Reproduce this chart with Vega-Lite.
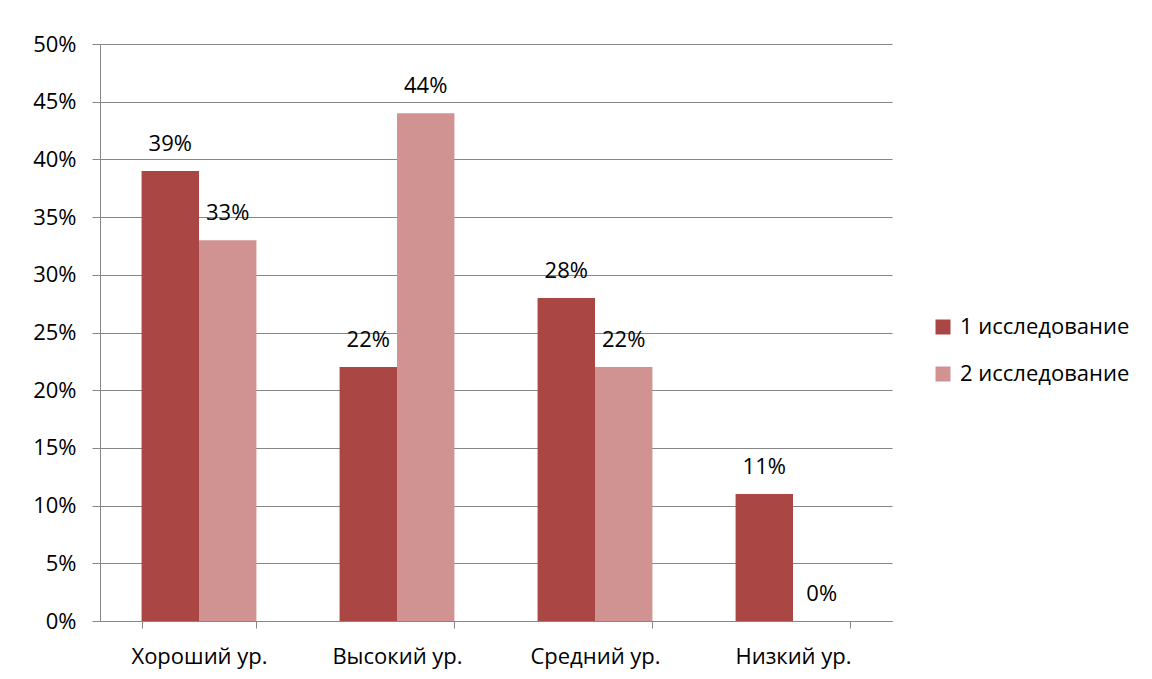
{
  "$schema": "https://vega.github.io/schema/vega-lite/v6.json",
  "width": 792,
  "height": 577,
  "autosize": {"type": "none"},
  "padding": {"left": 100, "top": 44, "right": 260, "bottom": 58},
  "background": "white",
  "config": {
    "font": "Open Sans",
    "view": {"stroke": null},
    "axis": {"labelFont": "Open Sans", "labelFontSize": 22, "labelColor": "#000000", "domainColor": "#868686", "tickColor": "#868686", "gridColor": "#868686"}
  },
  "data": {
    "values": [
      {"cat": "Хороший ур.", "series": "1 исследование", "v": 0.39},
      {"cat": "Хороший ур.", "series": "2 исследование", "v": 0.33},
      {"cat": "Высокий ур.", "series": "1 исследование", "v": 0.22},
      {"cat": "Высокий ур.", "series": "2 исследование", "v": 0.44},
      {"cat": "Средний ур.", "series": "1 исследование", "v": 0.28},
      {"cat": "Средний ур.", "series": "2 исследование", "v": 0.22},
      {"cat": "Низкий ур.", "series": "1 исследование", "v": 0.11},
      {"cat": "Низкий ур.", "series": "2 исследование", "v": 0.0}
    ]
  },
  "encoding": {
    "x": {
      "field": "cat", "type": "nominal", "sort": null, "title": null,
      "scale": {"paddingInner": 0.42, "paddingOuter": 0.21},
      "axis": {"labelAngle": 0, "labelPadding": 18, "tickBand": "extent", "tickSize": 7, "domainWidth": 1}
    },
    "xOffset": {"field": "series", "type": "nominal"},
    "y": {
      "field": "v", "type": "quantitative", "title": null,
      "scale": {"domain": [0, 0.5]},
      "axis": {"format": ".0%", "values": [0,0.05,0.1,0.15,0.2,0.25,0.3,0.35,0.4,0.45,0.5], "labelOverlap": false, "tickSize": 8, "labelPadding": 16, "grid": true}
    }
  },
  "layer": [
    {
      "mark": {"type": "bar"},
      "encoding": {
        "color": {
          "field": "series", "type": "nominal", "title": null,
          "scale": {"range": ["#AA4643", "#D09392"]},
          "legend": {"orient": "none", "legendX": 832, "legendY": 272, "symbolType": "square", "symbolSize": 225, "labelFontSize": 22, "labelFont": "Open Sans", "labelColor": "#000000", "labelLimit": 400, "rowPadding": 25, "labelOffset": 6, "symbolStrokeWidth": 0}
        }
      }
    },
    {
      "mark": {"type": "text", "baseline": "bottom", "dy": -15, "fontSize": 22, "font": "Open Sans", "color": "#000000"},
      "encoding": {"text": {"field": "v", "type": "quantitative", "format": ".0%"}}
    }
  ]
}
